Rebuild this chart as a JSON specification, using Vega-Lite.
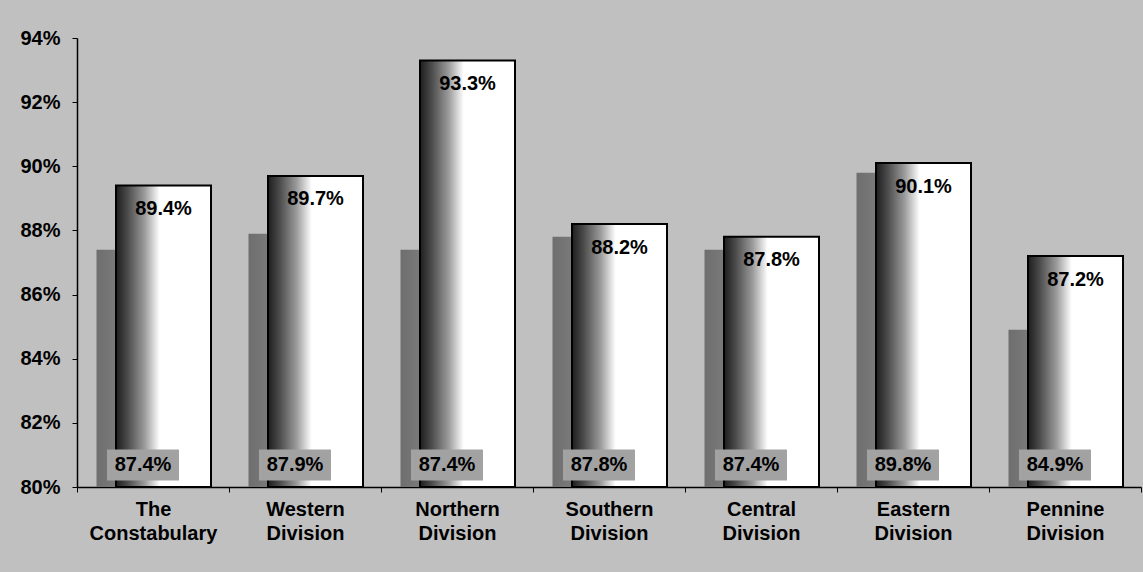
{
  "$schema": "https://vega.github.io/schema/vega-lite/v6.json",
  "width": 1064,
  "height": 449,
  "autosize": {"type": "none"},
  "padding": {"left": 77, "top": 38, "right": 2, "bottom": 85},
  "background": "#c0c0c0",
  "config": {
    "view": {"stroke": null},
    "font": "Liberation Sans"
  },
  "data": {
    "values": [
      {"area": "The Constabulary", "series": "Previous", "value": 0.874},
      {"area": "Western Division", "series": "Previous", "value": 0.879},
      {"area": "Northern Division", "series": "Previous", "value": 0.874},
      {"area": "Southern Division", "series": "Previous", "value": 0.878},
      {"area": "Central Division", "series": "Previous", "value": 0.874},
      {"area": "Eastern Division", "series": "Previous", "value": 0.898},
      {"area": "Pennine Division", "series": "Previous", "value": 0.849},
      {"area": "The Constabulary", "series": "Current", "value": 0.894},
      {"area": "Western Division", "series": "Current", "value": 0.897},
      {"area": "Northern Division", "series": "Current", "value": 0.933},
      {"area": "Southern Division", "series": "Current", "value": 0.882},
      {"area": "Central Division", "series": "Current", "value": 0.878},
      {"area": "Eastern Division", "series": "Current", "value": 0.901},
      {"area": "Pennine Division", "series": "Current", "value": 0.872}
    ]
  },
  "encoding": {
    "x": {
      "field": "area",
      "type": "nominal",
      "sort": null,
      "title": null,
      "scale": {"paddingInner": 0, "paddingOuter": 0},
      "axis": {
        "tickBand": "extent",
        "tickExtra": true,
        "tickSize": 5,
        "tickColor": "#000000",
        "domainColor": "#000000",
        "domainWidth": 1.5,
        "labelAngle": 0,
        "labelExpr": "split(datum.label, ' ')",
        "labelFont": "Liberation Sans",
        "labelFontSize": 20,
        "labelFontWeight": "bold",
        "labelColor": "#000000",
        "labelLineHeight": 24,
        "labelPadding": 7,
        "labelBaseline": "top"
      }
    }
  },
  "layer": [
    {
      "transform": [{"filter": "datum.series === 'Previous'"}],
      "mark": {
        "type": "bar",
        "width": {"band": 0.625},
        "xOffset": -9,
        "fill": {
          "gradient": "linear",
          "x1": 0, "x2": 1, "y1": 0, "y2": 0,
          "stops": [
            {"offset": 0, "color": "#6e6e6e"},
            {"offset": 0.5, "color": "#8a8a8a"},
            {"offset": 1, "color": "#7a7a7a"}
          ]
        }
      },
      "encoding": {
        "y": {
          "field": "value",
          "type": "quantitative",
          "title": null,
          "scale": {"domain": [0.8, 0.94], "zero": false, "nice": false},
          "axis": {
            "values": [0.8, 0.82, 0.84, 0.86, 0.88, 0.9, 0.92, 0.94],
            "format": ".0%",
            "grid": false,
            "tickSize": 5,
            "tickColor": "#000000",
            "domainColor": "#000000",
            "domainWidth": 1.5,
            "labelFont": "Liberation Sans",
            "labelFontSize": 20,
            "labelFontWeight": "bold",
            "labelColor": "#000000",
            "labelPadding": 12
          }
        },
        "y2": {"datum": 0.8}
      }
    },
    {
      "transform": [{"filter": "datum.series === 'Current'"}],
      "mark": {
        "type": "bar",
        "width": {"band": 0.625},
        "xOffset": 10.5,
        "stroke": "#000000",
        "strokeWidth": 2,
        "fill": {
          "gradient": "linear",
          "x1": 0, "x2": 1, "y1": 0, "y2": 0,
          "stops": [
            {"offset": 0, "color": "#1e1e1e"},
            {"offset": 0.12, "color": "#4a4a4a"},
            {"offset": 0.3, "color": "#9a9a9a"},
            {"offset": 0.46, "color": "#ffffff"},
            {"offset": 1, "color": "#ffffff"}
          ]
        }
      },
      "encoding": {
        "y": {"field": "value", "type": "quantitative"},
        "y2": {"datum": 0.8}
      }
    },
    {
      "transform": [{"filter": "datum.series === 'Current'"}],
      "mark": {
        "type": "text",
        "xOffset": 10.5,
        "dy": 23.5,
        "baseline": "middle",
        "align": "center",
        "font": "Liberation Sans",
        "fontSize": 20,
        "fontWeight": "bold",
        "color": "#000000"
      },
      "encoding": {
        "y": {"field": "value", "type": "quantitative"},
        "text": {"field": "value", "type": "quantitative", "format": ".1%"}
      }
    },
    {
      "transform": [{"filter": "datum.series === 'Previous'"}],
      "mark": {
        "type": "point",
        "shape": "M-1,-0.43H1V0.43H-1Z",
        "size": 5184,
        "filled": true,
        "fill": "#a2a2a2",
        "opacity": 1,
        "strokeWidth": 0,
        "xOffset": -10,
        "yOffset": -22
      },
      "encoding": {
        "y": {"datum": 0.8}
      }
    },
    {
      "transform": [{"filter": "datum.series === 'Previous'"}],
      "mark": {
        "type": "text",
        "xOffset": -10,
        "yOffset": -22,
        "baseline": "middle",
        "align": "center",
        "font": "Liberation Sans",
        "fontSize": 20,
        "fontWeight": "bold",
        "color": "#000000"
      },
      "encoding": {
        "y": {"datum": 0.8},
        "text": {"field": "value", "type": "quantitative", "format": ".1%"}
      }
    }
  ]
}
